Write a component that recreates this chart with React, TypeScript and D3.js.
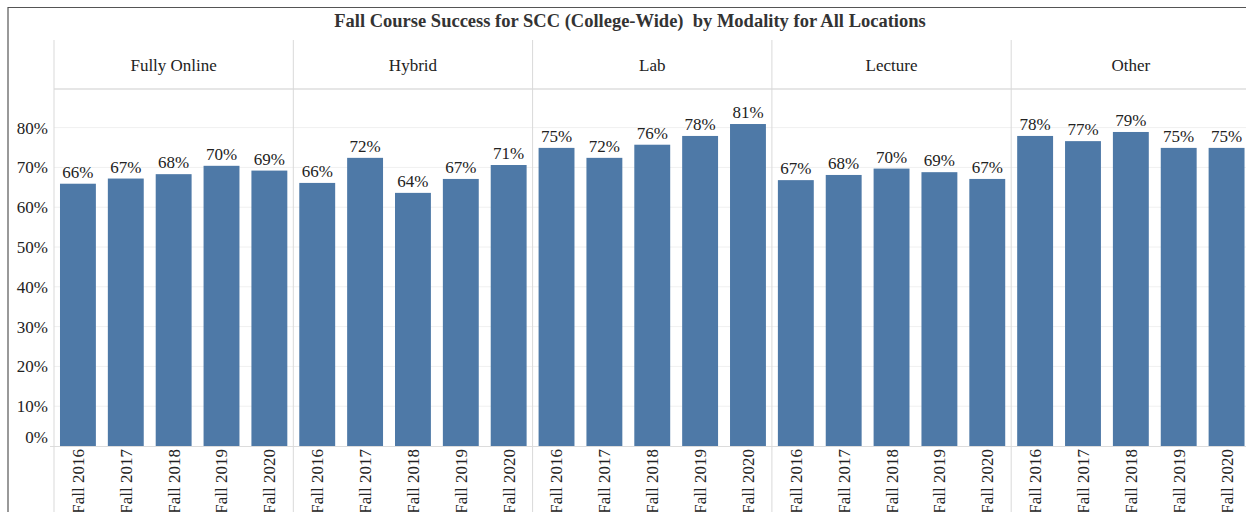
import React from "react";
import * as d3 from "d3";

const modalities = ["Fully Online", "Hybrid", "Lab", "Lecture", "Other"];
const terms = ["Fall 2016", "Fall 2017", "Fall 2018", "Fall 2019", "Fall 2020"];
const fullyOnline = [65.9, 67.2, 68.3, 70.4, 69.2];
const hybrid = [66.1, 72.4, 63.6, 67.1, 70.6];
const lab = [74.9, 72.4, 75.7, 77.9, 80.9];
const lecture = [66.8, 68.1, 69.7, 68.8, 67.1];
const other = [77.9, 76.6, 78.9, 74.9, 74.9];
const yTicks = [0, 10, 20, 30, 40, 50, 60, 70, 80];
const title = "Fall Course Success for SCC (College-Wide)  by Modality for All Locations";

const seriesByModality: Record<string, number[]> = {
  "Fully Online": fullyOnline,
  Hybrid: hybrid,
  Lab: lab,
  Lecture: lecture,
  Other: other,
};

const W = 1246;
const H = 512;
const FONT = "'Liberation Serif', 'Times New Roman', serif";
const BAR = "#4e79a7";
const FS = 17;

export default function App() {
  const left = 54;
  const panelW = 239.3;
  const outer = d3.scaleBand<string>().domain(modalities).range([left, left + panelW * modalities.length]).padding(0);
  const inner = d3.scaleBand<string>().domain(terms).range([0, panelW]).paddingInner(0.25).paddingOuter(0.125);
  const y = d3.scaleLinear().domain([0, 100]).range([446, 48]);

  return (
    <svg width={W} height={H} style={{ position: "absolute", left: 0, top: 0, background: "#fff" }} fontFamily={FONT}>
      {/* frame */}
      <line x1={8} x2={W} y1={7.5} y2={7.5} stroke="#555" strokeWidth={1.2} />
      <line x1={8} x2={8} y1={7} y2={H} stroke="#555" strokeWidth={1.2} />
      <text x={630} y={27} textAnchor="middle" fontSize={18.5} fontWeight="bold" fill="#333" style={{ whiteSpace: "pre" }}>
        {title}
      </text>

      {/* gridlines */}
      {yTicks.filter((t) => t > 0).map((t) => (
        <line key={t} x1={left} x2={W} y1={y(t)} y2={y(t)} stroke="#f0f0f0" strokeWidth={1} />
      ))}
      {/* header bottom */}
      <line x1={left} x2={W} y1={89} y2={89} stroke="#e6e6e6" strokeWidth={2} />
      {/* baseline */}
      <line x1={50} x2={W} y1={y(0) + 0.5} y2={y(0) + 0.5} stroke="#dcdcdc" strokeWidth={1} />

      {/* y axis labels */}
      {yTicks.map((t) => (
        <text key={t} x={48} y={t === 0 ? y(0) - 9 : y(t)} dy="0.35em" textAnchor="end" fontSize={FS} fill="#222">
          {t}%
        </text>
      ))}

      {/* panels */}
      {modalities.map((m) => {
        const x0 = outer(m)!;
        const vals = seriesByModality[m];
        return (
          <g key={m}>
            <line x1={x0} x2={x0} y1={40} y2={H} stroke="#d9d9d9" strokeWidth={1} />
            <text x={x0 + panelW / 2} y={65} dy="0.35em" textAnchor="middle" fontSize={FS} fill="#222">
              {m}
            </text>
            {terms.map((t, i) => {
              const bx = x0 + inner(t)!;
              const bw = inner.bandwidth();
              const v = vals[i];
              const cx = bx + bw / 2;
              return (
                <g key={t}>
                  <rect x={bx} y={y(v)} width={bw} height={y(0) - y(v)} fill={BAR} />
                  <text x={cx} y={y(v) - 6} textAnchor="middle" fontSize={FS} fill="#222">
                    {Math.round(v)}%
                  </text>
                  <text
                    transform={`translate(${cx},${y(0) + 3}) rotate(-90)`}
                    dy="0.35em"
                    textAnchor="end"
                    fontSize={FS}
                    fill="#222"
                  >
                    {t}
                  </text>
                </g>
              );
            })}
          </g>
        );
      })}
    </svg>
  );
}
